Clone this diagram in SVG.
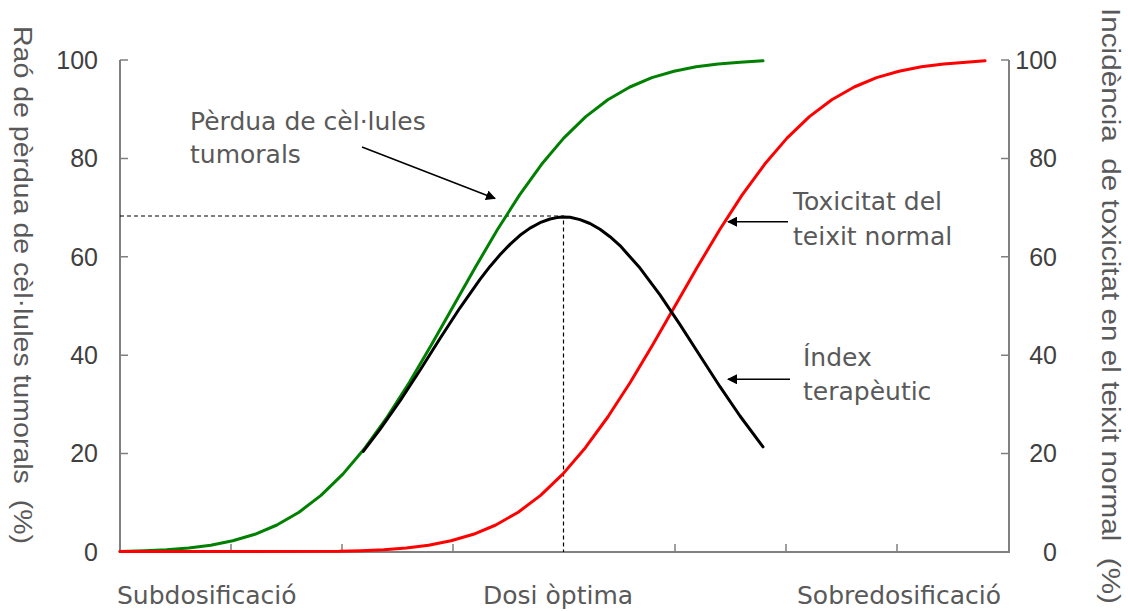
<svg xmlns="http://www.w3.org/2000/svg" width="1128" height="611" viewBox="0 0 1128 611">
<defs>
<style>
.axis{stroke:#808080;stroke-width:2;fill:none}
.tick{stroke:#808080;stroke-width:1.5;fill:none}
.dash{stroke:#000;stroke-width:1.2;stroke-dasharray:4 3;fill:none}
.curve{fill:none;stroke-width:3;stroke-linejoin:round;stroke-linecap:round}
.num{font-family:"Liberation Sans",Arial,sans-serif;font-size:25px;fill:#404040}
.title{font-family:"Liberation Sans",Arial,sans-serif;font-size:26px;fill:#595959;white-space:pre}
.lbl{font-family:"DejaVu Sans",Tahoma,sans-serif;font-size:25px;fill:#595959}
.arrow{stroke:#000;stroke-width:1.5;fill:none}
</style>
<marker id="ah" viewBox="0 0 10 10" refX="9" refY="5" markerWidth="10" markerHeight="10" markerUnits="userSpaceOnUse" orient="auto">
<path d="M0,0 L10,5 L0,10 z" fill="#000"/>
</marker>
</defs>
<rect width="1128" height="611" fill="#fff"/>
<g id="axes">
<path class="axis" d="M120,60 V552 H1009 V60"/>
<path class="tick" d="M120,60 h8 M120,158.4 h8 M120,256.8 h8 M120,355.2 h8 M120,453.6 h8"/>
<path class="tick" d="M1009,60 h-8 M1009,158.4 h-8 M1009,256.8 h-8 M1009,355.2 h-8 M1009,453.6 h-8"/>
<path class="tick" d="M231,552 v-8 M342,552 v-8 M453,552 v-8 M675,552 v-8 M786,552 v-8 M897,552 v-8"/>
</g>
<g id="axis-numbers">
<g class="num" text-anchor="end">
<text x="98" y="69">100</text>
<text x="98" y="167">80</text>
<text x="98" y="266">60</text>
<text x="98" y="364">40</text>
<text x="98" y="462">20</text>
<text x="98" y="561">0</text>
<text x="1057" y="69">100</text>
<text x="1057" y="167">80</text>
<text x="1057" y="266">60</text>
<text x="1057" y="364">40</text>
<text x="1057" y="462">20</text>
<text x="1057" y="561">0</text>
</g>
</g>
<g id="axis-titles">
<text class="title" xml:space="preserve" transform="translate(14,285) rotate(90)" text-anchor="middle" textLength="518" lengthAdjust="spacingAndGlyphs">Raó de pèrdua de cèl·lules tumorals  (%)</text>
<text class="title" xml:space="preserve" transform="translate(1102,306) rotate(90)" text-anchor="middle" textLength="596" lengthAdjust="spacingAndGlyphs">Incidència  de toxicitat en el teixit normal  (%)</text>
</g>
<g id="guides">
<path class="dash" d="M120,216 H563.5 V552"/>
</g>
<g id="curves">
<polyline id="tumor-curve" class="curve" stroke="#008000" points="120,551.4 144.6,550.7 166.6,549.7 188.7,548.0 210.7,545.2 232.8,540.8 254.9,534.3 276.9,525.0 299.0,512.2 321.0,495.4 343.1,473.9 365.2,447.7 387.2,417.0 409.3,382.5 431.3,345.0 453.4,306.0 475.5,267.0 497.5,229.5 519.6,194.9 541.6,164.3 563.7,138.1 585.8,116.6 607.8,99.8 629.9,87.0 651.9,77.6 674.0,71.2 696.1,66.8 718.1,64.0 740.2,62.3 763,60.8"/>
<polyline id="toxicity-curve" class="curve" stroke="#ff0000" points="120,551.5 339,551.3 361.4,550.7 383.8,549.7 406.2,548.0 428.6,545.2 451.0,540.8 473.4,534.3 495.8,525.0 518.2,512.2 540.6,495.4 563.0,473.9 585.4,447.7 607.8,417.0 630.2,382.5 652.6,345.0 675.0,306.0 697.4,267.0 719.8,229.5 742.2,194.9 764.6,164.3 787.0,138.1 809.4,116.6 831.8,99.8 854.2,87.0 876.6,77.6 899.0,71.2 921.4,66.8 943.8,64.0 966.2,62.3 985,60.8"/>
<polyline id="index-curve" class="curve" stroke="#000" points="363.3,451.4 380,429.4 400,400.9 420,370.2 440,338.5 460,307.8 480,279.4 490,266.4 500,254.8 510,244.4 520,235.3 530,228.1 540,222.7 550,219.0 557,217.6 563,216.9 570,217.2 580,219.6 590,223.5 600,229.2 610,236.7 620,245.6 640,268.1 660,294.9 680,324.7 700,355.7 720,386.7 740,416.0 763,446.9"/>
</g>
<g id="connectors">
<line class="arrow" x1="362" y1="147" x2="495" y2="198.5" marker-end="url(#ah)"/>
<line class="arrow" x1="788" y1="221.7" x2="728" y2="221.7" marker-end="url(#ah)"/>
<line class="arrow" x1="790" y1="379.3" x2="728" y2="379.3" marker-end="url(#ah)"/>
</g>
<g id="label-tumor" class="lbl">
<text x="190" y="130">Pèrdua de cèl·lules</text>
<text x="190" y="163">tumorals</text>
</g>
<g id="label-toxicity" class="lbl">
<text x="793" y="210">Toxicitat del</text>
<text x="793" y="245">teixit normal</text>
</g>
<g id="label-index" class="lbl">
<text x="803" y="366">Índex</text>
<text x="803" y="400">terapèutic</text>
</g>
<g id="x-categories" class="lbl">
<text x="117" y="604">Subdosificació</text>
<text x="483" y="604">Dosi òptima</text>
<text x="797" y="604">Sobredosificació</text>
</g>
</svg>
